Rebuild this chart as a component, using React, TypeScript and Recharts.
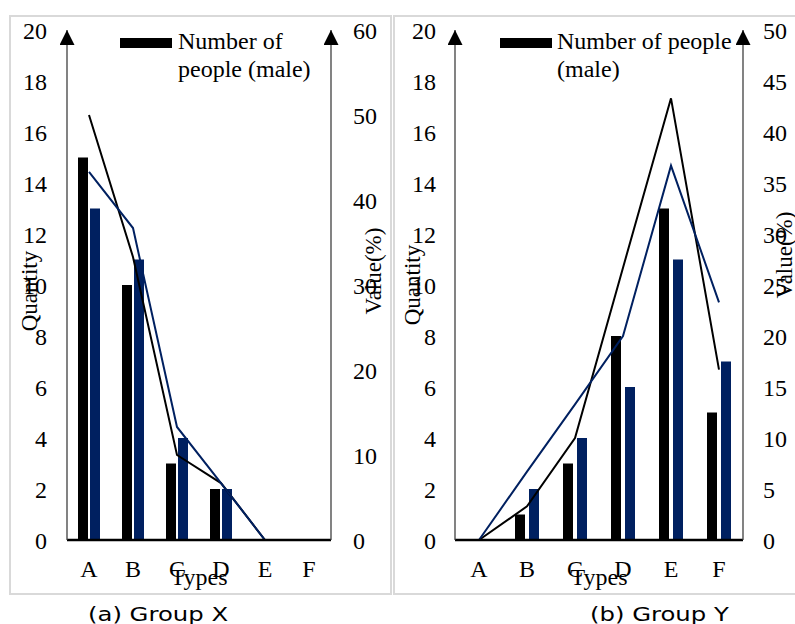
import { Bar, ComposedChart, Line, XAxis, YAxis } from "recharts"

const types = ["A", "B", "C", "D", "E", "F"]

// Group X
const maleX = [15, 10, 3, 2, 0, 0]
const femaleX = [13, 11, 4, 2, 0, 0]
const malePctX = [50, 33.3, 10, 6.7, 0, 0]
const femalePctX = [43.3, 36.7, 13.3, 6.7, 0, 0]

// Group Y
const maleY = [0, 1, 3, 8, 13, 5]
const femaleY = [0, 2, 4, 6, 11, 7]
const malePctY = [0, 3.3, 10, 26.7, 43.3, 16.7]
const femalePctY = [0, 6.7, 13.3, 20, 36.7, 23.3]

const quantityTicks = [0, 2, 4, 6, 8, 10, 12, 14, 16, 18, 20]
const valueTicksX = [0, 10, 20, 30, 40, 50, 60]
const valueTicksY = [0, 5, 10, 15, 20, 25, 30, 35, 40, 45, 50]

const SERIF = "'Liberation Serif', 'Times New Roman', serif"
const SANS = "'DejaVu Sans', Verdana, sans-serif"
const NAVY = "#002060"

const tickStyle = { fill: "#000", fontSize: 24, fontFamily: SERIF }

function buildRows(male: number[], female: number[], malePct: number[], femalePct: number[]) {
  return types.map((type, i) => ({
    type,
    male: male[i],
    female: female[i],
    malePct: malePct[i],
    femalePct: femalePct[i],
  }))
}

interface PanelProps {
  left: number
  width: number
  leftAxisWidth: number
  rightAxisWidth: number
  leftMargin: number
  rightMargin: number
  barGap: number
  valueTicks: number[]
  rows: ReturnType<typeof buildRows>
}

function Panel(p: PanelProps) {
  const vMax = p.valueTicks[p.valueTicks.length - 1]
  const axisLine = { stroke: "#404040", strokeWidth: 1.3, markerStart: "url(#axisArrow)" }
  return (
    <div style={{ position: "absolute", left: p.left, top: 0 }}>
      <ComposedChart
        width={p.width}
        height={600}
        data={p.rows}
        margin={{ top: 30, right: 0, bottom: 0, left: 0 }}
        barGap={p.barGap}
      >
        <XAxis
          dataKey="type"
          height={60}
          axisLine={{ stroke: "#000", strokeWidth: 2.5 }}
          tickLine={false}
          tickSize={0}
          tickMargin={20}
          tick={tickStyle}
          interval={0}
          label={{ value: "Types", position: "insideBottom", offset: 15, fill: "#000", fontSize: 24, fontFamily: SERIF }}
        />
        <YAxis
          yAxisId="q"
          domain={[0, 20]}
          ticks={quantityTicks}
          interval={0}
          width={p.leftAxisWidth}
          axisLine={axisLine}
          tickLine={false}
          tickSize={0}
          tickMargin={p.leftMargin}
          tick={tickStyle}
        />
        <YAxis
          yAxisId="v"
          orientation="right"
          domain={[0, vMax]}
          ticks={p.valueTicks}
          interval={0}
          width={p.rightAxisWidth}
          axisLine={axisLine}
          tickLine={false}
          tickSize={0}
          tickMargin={p.rightMargin}
          tick={tickStyle}
        />
        <Bar yAxisId="q" dataKey="male" name="Number of people (male)" fill="#000" barSize={10} isAnimationActive={false} />
        <Bar yAxisId="q" dataKey="female" name="Number of people (female)" fill={NAVY} barSize={10} isAnimationActive={false} />
        <Line yAxisId="v" type="linear" dataKey="malePct" stroke="#000" strokeWidth={2} dot={false} isAnimationActive={false} />
        <Line yAxisId="v" type="linear" dataKey="femalePct" stroke={NAVY} strokeWidth={2} dot={false} isAnimationActive={false} />
      </ComposedChart>
    </div>
  )
}

function RotLabel({ text, x, y }: { text: string; x: number; y: number }) {
  return (
    <div
      style={{
        position: "absolute",
        left: x,
        top: y,
        transform: "translate(-50%, -50%) rotate(-90deg)",
        fontFamily: SERIF,
        fontSize: 23,
        lineHeight: 1,
        whiteSpace: "nowrap",
        color: "#000",
      }}
    >
      {text}
    </div>
  )
}

function LegendBox({ x, textX, lines }: { x: number; textX: number; lines: string[] }) {
  return (
    <>
      <div style={{ position: "absolute", left: x, top: 38, width: 52, height: 10, background: "#000" }} />
      <div
        style={{
          position: "absolute",
          left: textX,
          top: 27,
          fontFamily: SERIF,
          fontSize: 24,
          lineHeight: "28px",
          whiteSpace: "nowrap",
          color: "#000",
        }}
      >
        {lines.map((l) => (
          <div key={l}>{l}</div>
        ))}
      </div>
    </>
  )
}

function Caption({ text, x }: { text: string; x: number }) {
  return (
    <div
      style={{
        position: "absolute",
        left: x,
        top: 603,
        fontFamily: SANS,
        fontSize: 19,
        lineHeight: "22px",
        whiteSpace: "nowrap",
        color: "#000",
        transform: "scaleX(1.28)",
        transformOrigin: "left center",
      }}
    >
      {text}
    </div>
  )
}

export default function App() {
  const rowsX = buildRows(maleX, femaleX, malePctX, femalePctX)
  const rowsY = buildRows(maleY, femaleY, malePctY, femalePctY)
  return (
    <div
      style={{
        position: "absolute",
        left: 0,
        top: 0,
        width: 795,
        height: 624,
        overflow: "hidden",
        background: "#fff",
      }}
    >
      <svg width={0} height={0} style={{ position: "absolute" }}>
        <defs>
          <marker
            id="axisArrow"
            viewBox="0 0 15 15"
            refX={15}
            refY={7.5}
            markerWidth={15}
            markerHeight={15}
            markerUnits="userSpaceOnUse"
            orient="auto-start-reverse"
          >
            <path d="M0,0 L15,7.5 L0,15 z" fill="#000" />
          </marker>
        </defs>
      </svg>

      <div style={{ position: "absolute", left: 9, top: 15, width: 383, height: 580, border: "2px solid #d9d9d9", boxSizing: "border-box" }} />
      <div style={{ position: "absolute", left: 393, top: 15, width: 420, height: 580, border: "2px solid #d9d9d9", boxSizing: "border-box" }} />

      <Panel
        left={0}
        width={392}
        leftAxisWidth={67}
        rightAxisWidth={61}
        leftMargin={20}
        rightMargin={22}
        barGap={2}
        valueTicks={valueTicksX}
        rows={rowsX}
      />
      <Panel
        left={395}
        width={400}
        leftAxisWidth={60}
        rightAxisWidth={52}
        leftMargin={19}
        rightMargin={20}
        barGap={4}
        valueTicks={valueTicksY}
        rows={rowsY}
      />

      <LegendBox x={120} textX={178} lines={["Number of", "people (male)"]} />
      <LegendBox x={500} textX={557} lines={["Number of people", "(male)"]} />

      <RotLabel text="Quantity" x={29} y={291} />
      <RotLabel text="Value(%)" x={373} y={271} />
      <RotLabel text="Quantity" x={412} y={285} />
      <RotLabel text="Value(%)" x={784} y={255} />

      <Caption text="(a) Group X" x={88} />
      <Caption text="(b) Group Y" x={590} />
    </div>
  )
}
